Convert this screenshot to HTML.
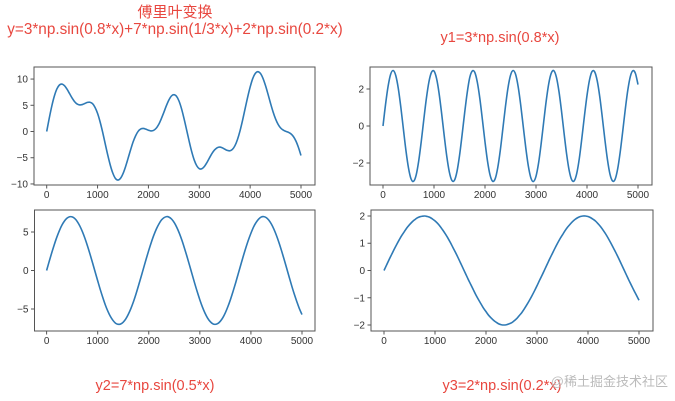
<!DOCTYPE html>
<html><head><meta charset="utf-8">
<style>
html,body{margin:0;padding:0;background:#fff;}
svg{display:block;font-family:"Liberation Sans","Noto Sans CJK SC",sans-serif;}
.t{fill:#e8473f;}
.tick{fill:#333;font-size:10px;}
</style></head>
<body>
<svg id="fig" width="675" height="401" viewBox="0 0 675 401">
<text class="t" x="175" y="17" font-size="15" text-anchor="middle">傅里叶变换</text>
<text class="t" x="175" y="34" font-size="15.3" text-anchor="middle">y=3*np.sin(0.8*x)+7*np.sin(1/3*x)+2*np.sin(0.2*x)</text>
<text class="t" x="500" y="42" font-size="14.5" text-anchor="middle">y1=3*np.sin(0.8*x)</text>
<text class="t" x="155" y="390" font-size="14.5" text-anchor="middle">y2=7*np.sin(0.5*x)</text>
<text class="t" x="502" y="390" font-size="14.5" text-anchor="middle">y3=2*np.sin(0.2*x)</text>
<text x="668" y="386" font-size="13" fill="#bbb" text-anchor="end">@稀土掘金技术社区</text>
</svg>
<script>
const xStep = 50;
const ySum = [0,2.53,4.84,6.74,8.11,8.87,9.05,8.73,8.06,7.22,6.38,5.68,5.23,5.07,5.14,5.34,5.55,5.58,5.32,4.61,3.46,1.84,-0.13,-2.32,-4.47,-6.41,-7.94,-8.94,-9.26,-8.94,-8.04,-6.71,-5.11,-3.48,-1.96,-0.78,0.06,0.49,0.59,0.45,0.25,0.11,0.20,0.59,1.31,2.36,3.57,4.85,5.96,6.75,7.03,6.74,5.84,4.38,2.47,0.35,-1.81,-3.80,-5.42,-6.53,-7.09,-7.10,-6.67,-5.93,-5.04,-4.19,-3.52,-3.10,-2.97,-3.10,-3.36,-3.60,-3.68,-3.42,-2.73,-1.54,0.09,2.09,4.30,6.50,8.47,10.07,11.06,11.41,11.10,10.19,8.81,7.16,5.41,3.77,2.40,1.36,0.67,0.27,0.04,-0.14,-0.43,-0.95,-1.81,-3.05,-4.58];
const y1 = [0,1.17,2.15,2.80,3.00,2.73,2.03,1.01,-0.17,-1.33,-2.27,-2.86,-2.99,-2.65,-1.89,-0.84,0.35,1.48,2.38,2.90,2.97,2.57,1.76,0.67,-0.52,-1.63,-2.48,-2.94,-2.94,-2.47,-1.61,-0.50,0.69,1.78,2.61,2.97,2.90,2.36,1.46,0.32,-0.86,-1.91,-2.66,-2.99,-2.85,-2.25,-1.31,-0.15,1.03,2.05,2.74,3.00,2.79,2.13,1.14,-0.03,-1.19,-2.17,-2.81,-3.00,-2.72,-2.01,-0.98,0.20,1.35,2.29,2.86,2.99,2.64,1.87,0.81,-0.38,-1.51,-2.40,-2.91,-2.96,-2.55,-1.74,-0.64,0.55,1.65,2.50,2.95,2.93,2.45,1.59,0.47,-0.72,-1.80,-2.60,-2.97,-2.89,-2.34,-1.43,-0.30,0.89,1.94,2.68,2.99,2.84,2.24];
const y2 = [0,1.16,2.29,3.35,4.33,5.18,5.89,6.43,6.80,6.98,6.97,6.76,6.36,5.79,5.06,4.19,3.20,2.12,0.99,-0.18,-1.33,-2.46,-3.51,-4.48,-5.30,-5.98,-6.49,-6.85,-6.99,-6.95,-6.71,-6.29,-5.68,-4.94,-4.06,-3.05,-1.95,-0.81,0.35,1.51,2.62,3.66,4.60,5.41,6.06,6.57,6.87,7.00,6.92,6.66,6.21,5.59,4.82,3.91,2.88,1.79,0.64,-0.53,-1.68,-2.78,-3.81,-4.73,-5.52,-6.16,-6.62,-6.91,-7.00,-6.90,-6.60,-6.13,-5.48,-4.68,-3.76,-2.72,-1.62,-0.46,0.70,1.85,2.94,3.95,4.84,5.63,6.23,6.67,6.94,7.00,6.87,6.55,6.04,5.37,4.55,3.61,2.56,1.45,0.29,-0.88,-2.02,-3.09,-4.07,-4.98,-5.73];
const y3 = [0,0.20,0.40,0.59,0.78,0.96,1.13,1.29,1.43,1.57,1.68,1.78,1.86,1.93,1.97,1.99,2.00,1.98,1.95,1.89,1.82,1.73,1.62,1.49,1.35,1.20,1.03,0.85,0.67,0.48,0.28,0.08,-0.12,-0.32,-0.51,-0.70,-0.89,-1.06,-1.22,-1.38,-1.51,-1.64,-1.74,-1.83,-1.90,-1.96,-1.99,-2.00,-1.99,-1.96,-1.92,-1.85,-1.77,-1.66,-1.55,-1.41,-1.26,-1.10,-0.93,-0.75,-0.56,-0.36,-0.17,0.03,0.23,0.43,0.62,0.81,0.99,1.16,1.31,1.46,1.59,1.70,1.80,1.88,1.94,1.98,2.00,2.00,1.98,1.94,1.88,1.81,1.71,1.60,1.47,1.33,1.17,1.00,0.82,0.64,0.45,0.25,0.05,-0.15,-0.35,-0.54,-0.73,-0.91,-1.09];
const xTicks = [0,1000,2000,3000,4000,5000];
const yTicksSum = [10,5,0,-5,-10];
const yTicks1 = [2,0,-2];
const yTicks2 = [5,0,-5];
const yTicks3 = [2,1,0,-1,-2];

const NS = "http://www.w3.org/2000/svg";
const svg = document.getElementById('fig');
function mk(tag, attrs, parent){
  const e = document.createElementNS(NS, tag);
  for (const k in attrs) e.setAttribute(k, attrs[k]);
  (parent||svg).appendChild(e);
  return e;
}
function panel(name, box, x0px, x5px, yMin, yMax, yTicks, data){
  const g = mk('g', {});
  
  
  const sx = v => x0px + (x5px - x0px) * v / 5000;
  const sy = v => box.b - (v - yMin) / (yMax - yMin) * (box.b - box.t);
  const pts = data.map((v,i)=>[sx(i*xStep), sy(v)]);
  let d = 'M' + pts[0][0].toFixed(2) + ',' + pts[0][1].toFixed(2);
  for (let i=0;i<pts.length-1;i++){
    const p0 = pts[Math.max(0,i-1)], p1 = pts[i], p2 = pts[i+1], p3 = pts[Math.min(pts.length-1,i+2)];
    const c1x = p1[0] + (p2[0]-p0[0])/6, c1y = p1[1] + (p2[1]-p0[1])/6;
    const c2x = p2[0] - (p3[0]-p1[0])/6, c2y = p2[1] - (p3[1]-p1[1])/6;
    d += ' C' + c1x.toFixed(2)+','+c1y.toFixed(2)+' '+c2x.toFixed(2)+','+c2y.toFixed(2)+' '+p2[0].toFixed(2)+','+p2[1].toFixed(2);
  }
  const line = mk('path', {d:d, fill:'none', stroke:'#2f7ab5', 'stroke-width':1.6, 'stroke-linejoin':'round'}, g);
  
  
  const fr = mk('rect', {x:box.l, y:box.t, width:box.r-box.l, height:box.b-box.t, fill:'none', stroke:'#555', 'stroke-width':1}, g);
  
  
  xTicks.forEach(v=>{
    const x = sx(v);
    mk('line', {x1:x, x2:x, y1:box.b, y2:box.b+3.5, stroke:'#555', 'stroke-width':1}, g);
    const t = mk('text', {x:x, y:box.b+13, 'text-anchor':'middle', class:'tick'}, g);
    t.textContent = v;
    
    
  });
  yTicks.forEach(v=>{
    const y = sy(v);
    mk('line', {x1:box.l-3.5, x2:box.l, y1:y, y2:y, stroke:'#555', 'stroke-width':1}, g);
    const t = mk('text', {x:box.l-6, y:y+3.5, 'text-anchor':'end', class:'tick'}, g);
    t.textContent = v < 0 ? '\u2212' + Math.abs(v) : String(v);
    
    
  });
}
panel('sum-panel', {l:34,r:315,t:67,b:185}, 46.7, 301, -10.2, 12.3, yTicksSum, ySum);
panel('y1-panel', {l:370,r:652,t:67,b:185}, 383, 638, -3.19, 3.19, yTicks1, y1);
panel('y2-panel', {l:34.5,r:315,t:210,b:331}, 46.6, 302, -7.86, 7.86, yTicks2, y2);
panel('y3-panel', {l:371,r:653,t:210,b:331}, 384, 639, -2.22, 2.22, yTicks3, y3);
</script>
</body></html>
